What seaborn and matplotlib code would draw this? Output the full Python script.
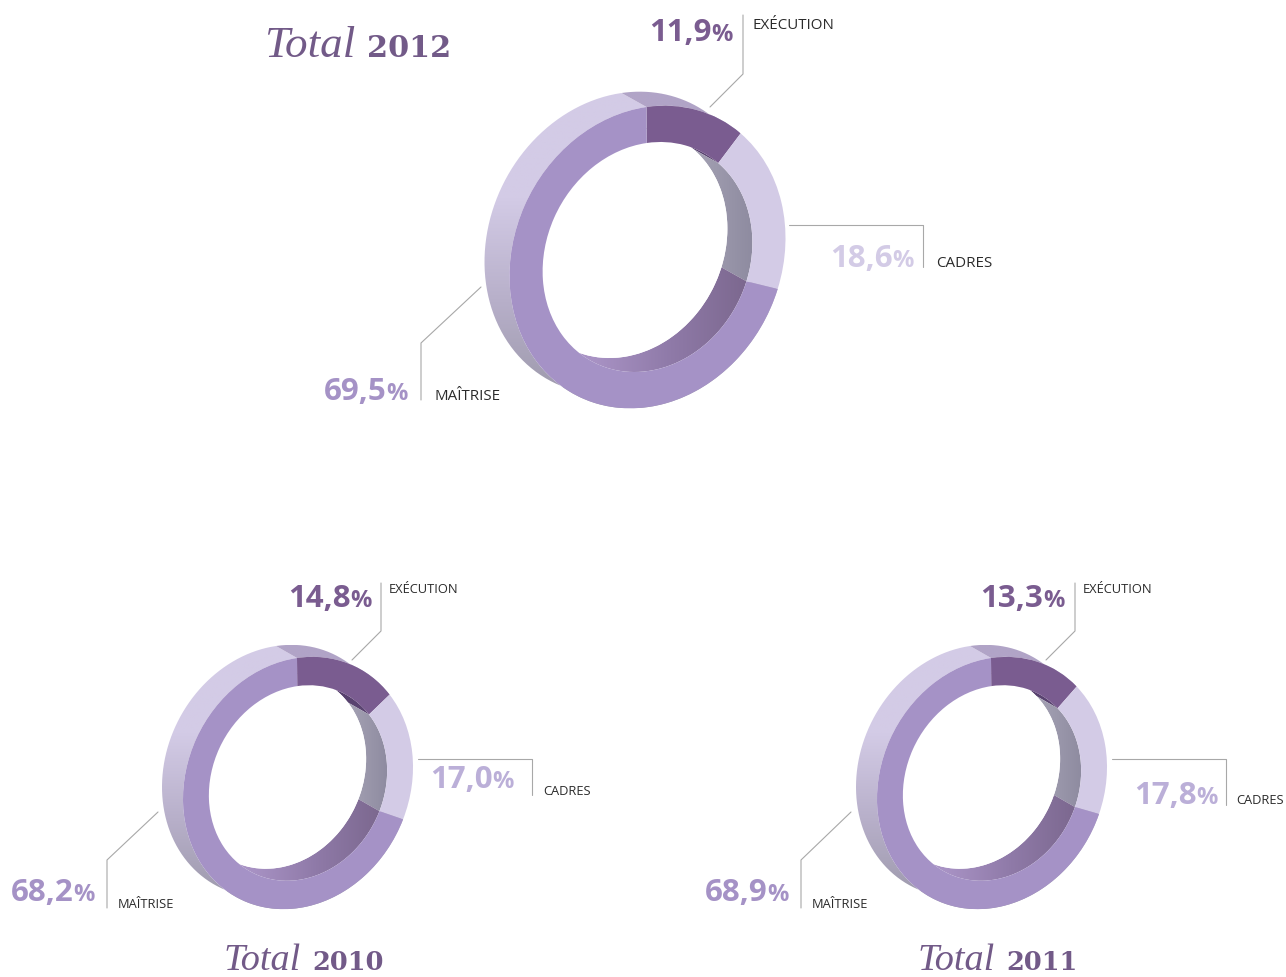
import numpy as np
import matplotlib
matplotlib.use("Agg")
import matplotlib.pyplot as plt
import seaborn as sns
from matplotlib.patches import Circle, PathPatch
from matplotlib.path import Path
from matplotlib.transforms import Affine2D

# Data
segments = ['EXÉCUTION', 'CADRES', 'MAÎTRISE']
values_2012 = [11.9, 18.6, 69.5]
values_2010 = [14.8, 17.0, 68.2]
values_2011 = [13.3, 17.8, 68.9]

# Colours
purple_dark = '#7a5c90'
purple_light = '#d3cbe6'
purple_mid = '#a592c6'
purple_label = '#bbafd8'
title_color = '#725a88'
colors = [purple_dark, purple_light, purple_mid]

sns.set_theme(style='white')

# Gradients for the sides of the rings
outer_cmap = sns.blend_palette(['#d3cbe6', '#d3cbe6', '#b7afc9', '#9a97a8'], as_cmap=True)
inner_grey = sns.blend_palette(['#a5a2b4', '#8e8ba0'], as_cmap=True)
inner_purple = sns.blend_palette(['#a892c4', '#a892c4', '#8f7aa8', '#7c688f'], as_cmap=True)


def wall(ax, a1, a2, to_px, depth, radius, cmap, horizontal=False):
    # band between the front edge and the same edge pushed back by depth
    th = np.radians(np.linspace(a1, a2, 200))
    front = to_px.transform(np.c_[radius * np.sin(th), radius * np.cos(th)])
    back = front[::-1] + depth
    pts = np.vstack([front, back, front[:1]])
    patch = PathPatch(Path(pts), transform=ax.transData, fc='none', ec='none')
    ax.add_patch(patch)
    x0, y0 = pts.min(axis=0)
    x1, y1 = pts.max(axis=0)
    grad = np.linspace(0, 1, 256)
    grad = grad[None, :] if horizontal else grad[:, None]
    im = ax.imshow(grad, cmap=cmap, extent=(x0, x1, y1, y0), aspect='auto', zorder=2)
    im.set_clip_path(patch)


def ring(ax, values, centre, u, v, depth, inner):
    to_px = Affine2D.from_values(u[0], u[1], v[0], v[1], centre[0], centre[1])
    edges = np.concatenate([[0], np.cumsum(values)]) * 3.6

    # outer side, back of the ring
    wall(ax, edges[2], edges[3], to_px, depth, 1.0, outer_cmap)
    wall(ax, edges[0], edges[1], to_px, depth, 1.0,
         sns.blend_palette(['#b1a4c7', '#b1a4c7'], as_cmap=True))

    # inner side, seen through the hole
    wall(ax, edges[0], edges[1], to_px, depth, inner,
         sns.blend_palette(['#4f3a68', '#5d4673'], as_cmap=True))
    wall(ax, edges[1], edges[2], to_px, depth, inner, inner_grey, horizontal=True)
    wall(ax, edges[2], edges[3], to_px, depth, inner, inner_purple, horizontal=True)

    # the hole itself
    hole = Circle((0, 0), inner, fc='white', ec='none', zorder=3,
                  transform=to_px + Affine2D().translate(*depth) + ax.transData)
    ax.add_patch(hole)

    # front face
    wedges, _ = ax.pie(values, colors=colors, startangle=90, counterclock=False,
                       radius=1, wedgeprops=dict(width=1 - inner, linewidth=0))
    for w in wedges:
        w.set_transform(to_px + ax.transData)
        w.set_zorder(4)


def pct_label(ax, x, y, value, color, size=22.5):
    txt = f'{value:.1f}'.replace('.', ',')
    ax.text(x, y, '%', ha='right', va='baseline', color=color, fontsize=size * 0.76,
            family='Open Sans', fontweight='bold', zorder=5)
    ax.text(x - size * 0.96, y, txt, ha='right', va='baseline', color=color, fontsize=size,
            family='Open Sans', fontweight='bold', zorder=5)


fig = plt.figure(figsize=(12.86, 9.77), dpi=100)
ax = fig.add_axes([0, 0, 1, 1])

# Rings
ring(ax, values_2012, (647.5, 257), (138, -20), (-1, -150), (-25, -14), 0.76)
ring(ax, values_2010, (298, 783), (115, -17), (-1, -125), (-21, -12), 0.775)
ring(ax, values_2011, (992, 783), (115, -17), (-1, -125), (-21, -12), 0.775)

# Leader lines
leaders = [
    [(710, 107), (743, 74), (743, 15)],
    [(789, 225), (923, 225), (923, 267)],
    [(481, 287), (421, 343), (421, 400)],
    [(352, 660), (381, 631), (381, 583)],
    [(418, 759), (532, 759), (532, 795)],
    [(158, 812), (107, 860), (107, 908)],
    [(1046, 660), (1075, 631), (1075, 583)],
    [(1112, 759), (1226, 759), (1226, 805)],
    [(851, 812), (801, 860), (801, 908)],
]
for line in leaders:
    xs, ys = zip(*line)
    ax.plot(xs, ys, color='#a8a8a8', linewidth=0.8, zorder=1)

# Percentages
pct_label(ax, 733, 41, values_2012[0], purple_dark)
pct_label(ax, 914, 267, values_2012[1], purple_light)
pct_label(ax, 408, 400, values_2012[2], purple_mid)
pct_label(ax, 372, 607, values_2010[0], purple_dark)
pct_label(ax, 514, 788, values_2010[1], purple_label)
pct_label(ax, 95, 901, values_2010[2], purple_mid)
pct_label(ax, 1065, 607, values_2011[0], purple_dark)
pct_label(ax, 1218, 804, values_2011[1], purple_label)
pct_label(ax, 789, 901, values_2011[2], purple_mid)

# Segment names
names = [
    (753, 29, 0, 10.9), (936, 267, 1, 10.9), (434, 400, 2, 10.9),
    (389, 593, 0, 9.3), (543, 795, 1, 9.3), (118, 908, 2, 9.3),
    (1083, 593, 0, 9.3), (1236, 804, 1, 9.3), (812, 908, 2, 9.3),
]
for x, y, i, size in names:
    ax.text(x, y, segments[i], fontsize=size, color='#2b2b2b', family='Open Sans',
            ha='left', va='baseline', zorder=5)

# Titles, the year is set apart in shorter and wider figures
titles = [
    ('Total', '2012', 264, 367, 57, 32.5),
    ('Total', '2010', 224, 312, 970, 27.5),
    ('Total', '2011', 918, 1006, 970, 27.5),
]
for word, year, x_word, x_year, y, size in titles:
    ax.text(x_word, y, word, fontsize=size, color=title_color, family='Liberation Serif',
            style='italic', ha='left', va='baseline', zorder=5)
    ax.text(x_year, y, year, fontsize=size * 0.67, color=title_color, family='DejaVu Serif',
            fontweight='bold', ha='left', va='baseline', zorder=5)

ax.set_aspect('auto')
ax.set_xlim(0, 1286)
ax.set_ylim(977, 0)
ax.axis('off')
fig.savefig('out.png', dpi=100, facecolor='white')
